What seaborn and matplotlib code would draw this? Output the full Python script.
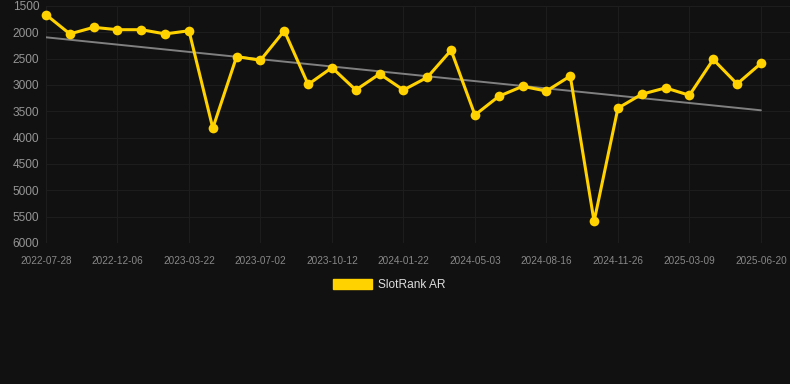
import numpy as np
import pandas as pd
import seaborn as sns
import matplotlib.pyplot as plt
from matplotlib.patches import Patch

# rank values, one per month-ish step
ranks = [1665, 2030, 1905, 1950, 1950, 2030, 1970, 3820, 2460, 2530,
         1970, 2990, 2670, 3095, 2790, 3095, 2855, 2340, 3570, 3215,
         3025, 3115, 2830, 5590, 3440, 3175, 3055, 3195, 2515, 2980, 2590]
tick_labels = ["2022-07-28", "2022-12-06", "2023-03-22", "2023-07-02",
               "2023-10-12", "2024-01-22", "2024-05-03", "2024-08-16",
               "2024-11-26", "2025-03-09", "2025-06-20"]
y_ticks = [1500, 2000, 2500, 3000, 3500, 4000, 4500, 5000, 5500, 6000]

df = pd.DataFrame({"step": np.arange(len(ranks)), "rank": ranks})

bg = "#111111"
gold = "#FFD200"

sns.set_theme(style="dark")
plt.rcParams["font.family"] = ["Liberation Sans", "DejaVu Sans"]

fig = plt.figure(figsize=(7.9, 3.84), dpi=100, facecolor=bg)
ax = fig.add_axes([46 / 790, 1 - 243 / 384, 744 / 790, 237 / 384])
ax.set_facecolor(bg)

# trend line first so the series sits on top
sns.regplot(data=df, x="step", y="rank", scatter=False, ci=None, ax=ax,
            line_kws={"color": "#808080", "lw": 1.4, "zorder": 2})
sns.lineplot(data=df, x="step", y="rank", ax=ax, color=gold, lw=2.2,
             marker="o", markersize=7, markeredgewidth=0, zorder=3,
             clip_on=False)

ax.set_xlim(0, 744 / 23.83)
ax.set_ylim(6000, 1500)
ax.set_xticks(np.arange(0, len(ranks), 3))
ax.set_xticklabels(tick_labels)
ax.set_yticks(y_ticks)
ax.set_xlabel("")
ax.set_ylabel("")

ax.grid(True, color="#1e1e1e", lw=0.7)
for s in ax.spines.values():
    s.set_visible(False)
ax.tick_params(axis="x", colors="#888888", labelsize=7.2, length=0, pad=9)
ax.tick_params(axis="y", colors="#959595", labelsize=8.6, length=0, pad=5)

handle = Patch(facecolor=gold, edgecolor=gold, label="SlotRank AR")
fig.legend(handles=[handle], loc="center", bbox_to_anchor=(389 / 790, 1 - 285 / 384),
           frameon=False, fontsize=8.6, labelcolor="#dddddd",
           handlelength=3.3, handleheight=0.9, handletextpad=0.5)

fig.savefig("out.png", dpi=100, facecolor=bg)
